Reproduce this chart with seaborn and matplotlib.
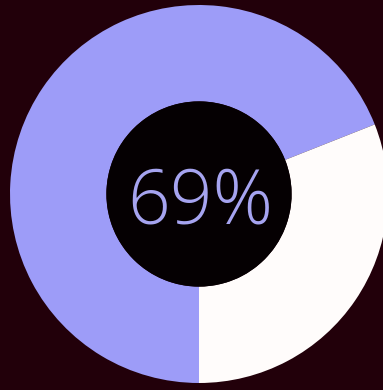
import matplotlib
matplotlib.use("Agg")
import matplotlib.pyplot as plt
import seaborn as sns
from matplotlib.patches import Circle

labels = ["Yes", "No"]
values = [69, 31]
center_label = "69%"
colors = ["#9d9cf8", "#fffcfb"]

sns.set_theme(style="white")
plt.rcParams['font.family'] = ['Open Sans', 'DejaVu Sans']

fig = plt.figure(figsize=(3.83, 3.90), dpi=100, facecolor="#22000a")
ax = fig.add_axes([0, 0, 1, 1])
ax.set_facecolor("#22000a")

ax.pie(values, colors=colors, startangle=270, counterclock=False,
       radius=1.0, wedgeprops=dict(width=0.51, edgecolor="none", linewidth=0))
ax.add_patch(Circle((0, 0), 0.49, facecolor="#050002", edgecolor="none", zorder=3))
ax.text(0.005, -0.05, center_label, ha="center", va="center", color="#a6a4f0",
        fontsize=54, fontweight=300, zorder=4)

ax.set_xlim(-199 / 189, 184 / 189)
ax.set_ylim(-196 / 189, 194 / 189)
ax.set_aspect("auto")
ax.axis("off")

fig.savefig("out.png", dpi=100, facecolor=fig.get_facecolor())
